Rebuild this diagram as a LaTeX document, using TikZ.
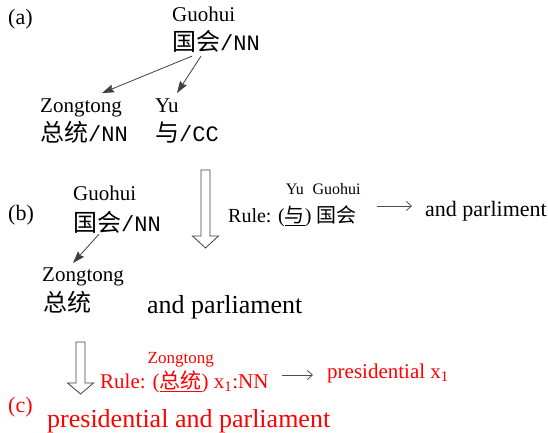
\documentclass[tikz,border=0pt]{standalone}
\usepackage{fontspec}
\setmainfont{Liberation Serif}
\newfontfamily\cjk{Noto Sans CJK SC}
\newfontfamily\monof{Liberation Mono}
\usetikzlibrary{arrows.meta}
\newcommand\fs[1]{\fontsize{#1}{#1}\selectfont}
\newcommand\glos[3]{\leavevmode\setbox0\hbox{#3}\rlap{\hbox to\wd0{\hss\raisebox{#1}{#2}\hss}}\box0}
\begin{document}
\begin{tikzpicture}[x=1pt,y=-1pt,
  lbl/.style={inner sep=0pt, anchor=base west},
  conn/.style={draw=black!75, line width=0.8pt, -{Stealth[length=12pt,width=8pt,inset=1.5pt]}},
  rarrow/.style={draw=black!70, line width=0.8pt, -{Straight Barb[length=5pt,width=9pt]}},
  hollow/.style={draw=black!75, line width=0.8pt, fill=white, line join=miter}]
\useasboundingbox (0,0) rectangle (548,433);
% (a)
\node[lbl] (la) at (8,25) {\fs{22}(a)};
\node[lbl] (ga1) at (172,22) {\fs{21}Guohui};
\node[lbl] (ga) at (172,51) {\fs{24}\cjk 国会\monof\fs{22}/NN};
\node[lbl] (zt) at (40,113) {\fs{21}Zongtong};
\node[lbl] (zta) at (40,141) {\fs{24}\cjk 总统\monof\fs{22}/NN};
\node[lbl] (yu) at (155,113) {\fs{21}Yu};
\node[lbl] (yua) at (155,141) {\fs{24}\cjk 与\monof\fs{22}/CC};
\draw[conn] ([xshift=20pt,yshift=-3pt]ga.south west) -- ([xshift=62pt,yshift=6pt]zt.north west);
\draw[conn] ([xshift=29pt,yshift=-3pt]ga.south west) -- ([xshift=22pt,yshift=6pt]yu.north west);
% hollow arrow 1
\draw[hollow] (201,170) -- (210,170) -- (210,236) -- (218.5,236) -- (205.5,248) -- (192.5,236) -- (201,236) -- cycle;
% (b)
\node[lbl] (lb) at (8,220) {\fs{22}(b)};
\node[lbl] (gb1) at (73,200) {\fs{21}Guohui};
\node[lbl] (gb) at (73,231) {\fs{24}\cjk 国会\monof\fs{22}/NN};
\node[lbl] (zb) at (42,281) {\fs{21}Zongtong};
\node[lbl] (zbc) at (43,311) {\fs{24}\cjk 总统};
\node[lbl] (apb) at (147,313) {\fs{26}and parliament};
\draw[conn] ([xshift=26pt,yshift=-1pt]gb.south west) -- ([xshift=31pt,yshift=4pt]zb.north west);
\node[lbl] (ruleb) at (228,222) {\fs{20}Rule: (\glos{28pt}{\fs{16}Yu}{\underline{\cjk 与}}) \glos{28pt}{\fs{16}Guohui}{\cjk 国会}};
\node[lbl] (rhsb) at (425,216) {\fs{22}and parliment};
\draw[rarrow] ([xshift=20pt,yshift=16pt]ruleb.base east) -- ([xshift=-13pt,yshift=10pt]rhsb.base west);
% hollow arrow 2
\draw[hollow] (76,342) -- (85,342) -- (85,383) -- (93.5,383) -- (80.5,394) -- (67.5,383) -- (76,383) -- cycle;
% (c)
\node[lbl, red] (rulec) at (100,388) {\fs{21}Rule: (\glos{25pt}{\fs{17}Zongtong}{\underline{\cjk 总统}}) x\textsubscript{1}:NN};
\node[lbl, red] (rhsc) at (327,378) {\fs{21}presidential x\textsubscript{1}};
\draw[rarrow] ([xshift=13pt,yshift=13pt]rulec.base east) -- ([xshift=-14pt,yshift=3pt]rhsc.base west);
\node[lbl, red] (lc) at (8,412) {\fs{22}(c)};
\node[lbl, red] (pac) at (47,427) {\fs{26}presidential and parliament};
\end{tikzpicture}
\end{document}
